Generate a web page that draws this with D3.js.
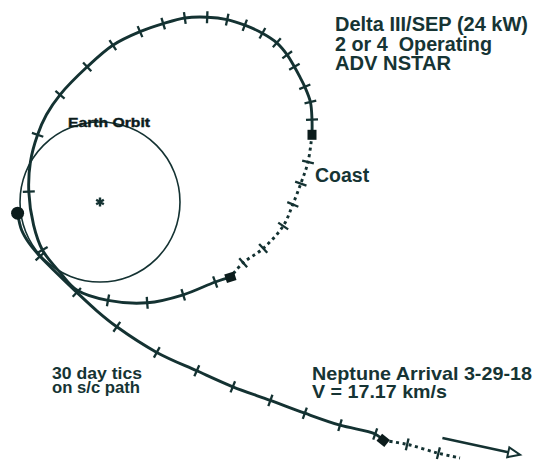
<!DOCTYPE html>
<html>
<head>
<meta charset="utf-8">
<script src="https://cdn.jsdelivr.net/npm/d3@7"></script>
<style>
	body { margin: 0; background: #fff; }
	text { font-family: "Liberation Sans", Arial, sans-serif; font-weight: bold; fill: #163434; white-space: pre; }
</style>
</head>
<body>
<svg id="chart" width="537" height="462"></svg>
<script>
// heliocentric positions in AU: [x, y, tic] (tic = 1 -> 30 day tic mark)
const thrustLoop = [
	[1.63,-0.94,0],[1.44,-1.00,1],[1.04,-1.16,1],[0.59,-1.26,1],[0.10,-1.23,1],
	[-0.29,-1.10,0],[-0.50,-0.88,0],[-0.72,-0.60,1],[-0.83,-0.29,0],[-0.89,0.13,1],
	[-0.87,0.50,0],[-0.78,0.84,1],[-0.67,1.09,0],[-0.50,1.34,1],[-0.16,1.69,1],
	[0.16,1.96,1],[0.50,2.13,1],[0.79,2.23,1],[1.06,2.30,1],[1.34,2.31,1],
	[1.59,2.28,1],[1.81,2.21,1],[2.03,2.11,1],[2.21,1.99,1],[2.34,1.84,1],
	[2.43,1.69,1],[2.50,1.56,0],[2.56,1.44,1],[2.63,1.25,1],[2.65,1.03,1],
	[2.65,0.84,0]
];
const coastArc = [
	[2.65,0.84,0],[2.60,0.50,1],[2.51,0.23,1],[2.41,-0.03,1],[2.29,-0.30,1],
	[2.04,-0.58,1],[1.79,-0.76,1],[1.63,-0.94,0]
];
const departure = [
	[-1.03,-0.14,0],[-0.98,-0.35,0],[-0.89,-0.51,0],[-0.75,-0.68,1],[-0.53,-0.90,0],
	[-0.29,-1.13,1],[-0.04,-1.36,0],[0.21,-1.56,1],[0.71,-1.88,1],[1.21,-2.11,1],
	[1.66,-2.31,1],[2.13,-2.48,1],[2.56,-2.64,1],[3.00,-2.79,1],[3.44,-2.90,1],
	[3.54,-2.98,0]
];
const finalCoast = [[3.54,-2.98,0],[3.84,-3.03,1],[4.23,-3.14,1],[4.50,-3.20,0]];
const arrowVec = [[4.28,-2.95],[5.25,-3.16]];
const earthLaunch = [-1.03,-0.14];
const switchPoints = [[2.65,0.84],[1.63,-0.94],[3.54,-2.98]];

const titleLines = ["Delta III/SEP (24 kW)", "2 or 4  Operating", "ADV NSTAR"];
const arrivalLines = ["Neptune Arrival 3-29-18", "V = 17.17 km/s"];
const ticNote = ["30 day tics", "on s/c path"];

document.addEventListener("DOMContentLoaded", init)

function init() {
	const ink = "#143232";
	const svg = d3.select("#chart");

	// 80 px per AU, sun at (100, 202)
	const x = d3.scaleLinear().domain([-1.25, 5.4625]).range([0, 537]);
	const y = d3.scaleLinear().domain([2.525, -3.25]).range([0, 462]);

	const line = d3.line()
		.x(d=>x(d[0]))
		.y(d=>y(d[1]))
		.curve(d3.curveCatmullRom.alpha(0.5));

	// earth orbit, 1 AU
	svg.append("ellipse")
	   .attr("cx", x(0))
	   .attr("cy", y(0))
	   .attr("rx", x(1) - x(0))
	   .attr("ry", y(-1) - y(0))
	   .style("fill", "none")
	   .style("stroke", ink)
	   .style("stroke-width", 1.6);

	svg.append("path")
	   .attr("d", d3.symbol(d3.symbolAsterisk, 55)())
	   .attr("transform", `translate(${x(0)},${y(0)})`)
	   .style("stroke", ink)
	   .style("stroke-width", 2.4);

	let segs = [
		{pts: thrustLoop, dash: null},
		{pts: coastArc, dash: "3,3.5"},
		{pts: departure, dash: null},
		{pts: finalCoast, dash: "3,3.5"}
	];

	svg.selectAll(".seg")
	   .data(segs)
	   .enter()
	   .append("path")
	   .classed("seg", true)
	   .attr("d", d=>line(d.pts))
	   .style("fill", "none")
	   .style("stroke", ink)
	   .style("stroke-width", 2.9)
	   .style("stroke-dasharray", d=>d.dash);

	// tangent at each vertex in pixel space
	function frames(pts) {
		return pts.map((d, i)=>{
			let a = pts[Math.max(i - 1, 0)], b = pts[Math.min(i + 1, pts.length - 1)];
			let dx = x(b[0]) - x(a[0]), dy = y(b[1]) - y(a[1]);
			let len = Math.hypot(dx, dy);
			return {px: x(d[0]), py: y(d[1]), tx: dx / len, ty: dy / len, tic: d[2]};
		});
	}

	let tics = segs.flatMap(s=>frames(s.pts)).filter(d=>d.tic);
	const h = 6;
	svg.selectAll(".tic")
	   .data(tics)
	   .enter()
	   .append("line")
	   .classed("tic", true)
	   .attr("x1", d=>d.px - d.ty * h)
	   .attr("y1", d=>d.py + d.tx * h)
	   .attr("x2", d=>d.px + d.ty * h)
	   .attr("y2", d=>d.py - d.tx * h)
	   .style("stroke", ink)
	   .style("stroke-width", 2.3);

	// thrust / coast switch points
	let allFrames = segs.flatMap(s=>frames(s.pts));
	svg.selectAll(".switch")
	   .data(switchPoints)
	   .enter()
	   .append("rect")
	   .classed("switch", true)
	   .attr("x", -5)
	   .attr("y", -4.5)
	   .attr("width", 10)
	   .attr("height", 9)
	   .attr("transform", d=>{
	   	   let f = allFrames.find(g=>Math.abs(g.px - x(d[0])) < 0.1 && Math.abs(g.py - y(d[1])) < 0.1);
	   	   let ang = Math.atan2(f.ty, f.tx) * 180 / Math.PI;
	   	   return `translate(${x(d[0])},${y(d[1])}) rotate(${ang})`;
	   })
	   .style("fill", "#0c1c1c");

	svg.append("circle")
	   .attr("cx", x(earthLaunch[0]))
	   .attr("cy", y(earthLaunch[1]))
	   .attr("r", 6.5)
	   .style("fill", "#0c1c1c");

	// arrow with open head
	let a0 = [x(arrowVec[0][0]), y(arrowVec[0][1])], a1 = [x(arrowVec[1][0]), y(arrowVec[1][1])];
	let ux = a1[0] - a0[0], uy = a1[1] - a0[1], ul = Math.hypot(ux, uy);
	ux /= ul; uy /= ul;
	let hl = 12, hw = 5;
	let bx = a1[0] - ux * hl, by = a1[1] - uy * hl;
	svg.append("line")
	   .attr("x1", a0[0]).attr("y1", a0[1])
	   .attr("x2", bx).attr("y2", by)
	   .style("stroke", ink)
	   .style("stroke-width", 2.5);
	svg.append("path")
	   .attr("d", d3.line()([a1, [bx - uy * hw, by + ux * hw], [bx + uy * hw, by - ux * hw]]) + "Z")
	   .style("fill", "#fff")
	   .style("stroke", ink)
	   .style("stroke-width", 2);

	// labels
	svg.append("g")
	   .selectAll("text")
	   .data(titleLines)
	   .enter()
	   .append("text")
	   .attr("x", 335)
	   .attr("y", (d, i)=>31 + i * 19.5)
	   .attr("textLength", (d, i)=>[193, 157, 116][i])
	   .attr("lengthAdjust", "spacingAndGlyphs")
	   .style("font-size", "19.5px")
	   .text(d=>d);

	svg.append("g")
	   .selectAll("text")
	   .data(arrivalLines)
	   .enter()
	   .append("text")
	   .attr("x", 312)
	   .attr("y", (d, i)=>380 + i * 18)
	   .attr("textLength", (d, i)=>i ? 135 : 220)
	   .attr("lengthAdjust", "spacingAndGlyphs")
	   .style("font-size", "18.5px")
	   .text(d=>d);

	svg.append("g")
	   .selectAll("text")
	   .data(ticNote)
	   .enter()
	   .append("text")
	   .attr("x", 52)
	   .attr("y", (d, i)=>379 + i * 14)
	   .attr("textLength", (d, i)=>i ? 88 : 90)
	   .attr("lengthAdjust", "spacingAndGlyphs")
	   .style("font-size", "16.5px")
	   .text(d=>d);

	svg.append("text")
	   .attr("x", 315)
	   .attr("y", 182)
	   .style("font-size", "19.5px")
	   .text("Coast");

	svg.append("text")
	   .attr("x", 68)
	   .attr("y", 127)
	   .attr("textLength", 82)
	   .attr("lengthAdjust", "spacingAndGlyphs")
	   .style("font-size", "13px")
	   .style("fill", "#0c1c1c")
	   .style("stroke", "#0c1c1c")
	   .style("stroke-width", 0.4)
	   .text("Earth Orbit");
}
</script>
</body>
</html>
